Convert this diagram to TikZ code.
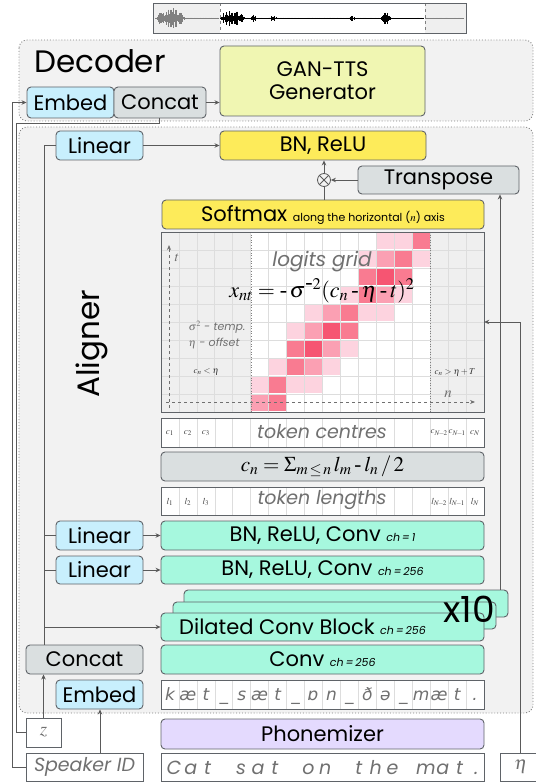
\documentclass[tikz,border=0pt]{standalone}
\usepackage{mathptmx}
\usepackage[no-math]{fontspec}
\setmainfont{Poppins}
\newfontfamily\ipaf{DejaVu Sans}
\newfontfamily\tms{Liberation Serif}
\usetikzlibrary{arrows.meta}
\definecolor{bordc}{HTML}{5F6368}
\definecolor{linec}{HTML}{5A5A5A}
\definecolor{lblue}{HTML}{C8EFFD}
\definecolor{cgray}{HTML}{DADFE0}
\definecolor{yel}{HTML}{FDEB5A}
\definecolor{lime}{HTML}{F0F6B2}
\definecolor{teal}{HTML}{A6F8DE}
\definecolor{lav}{HTML}{E4DAFE}
\definecolor{panel}{HTML}{F2F2F2}
\definecolor{txtg}{HTML}{707070}
\definecolor{gridg}{HTML}{EFEFEF}
\definecolor{gridl}{HTML}{DDDDDD}
\definecolor{pk1}{HTML}{FDD3DF}
\definecolor{pk2}{HTML}{FBA0B3}
\definecolor{pk3}{HTML}{F97B91}
\definecolor{pk4}{HTML}{F65572}
\newcommand{\myfs}[1]{\fontsize{#1}{#1}\selectfont}
\newcommand{\hy}{\mathbin{\mbox{\tms -}}}
\newcommand{\bx}[7]{%
  \pgfmathsetmacro{\cxx}{(#3+#5)/2}\pgfmathsetmacro{\cyy}{(#4+#6)/2}%
  \pgfmathsetmacro{\ww}{#5-#3}\pgfmathsetmacro{\hh}{#6-#4}%
  \node[#2, minimum width=\ww pt, minimum height=\hh pt] (#1) at (\cxx,\cyy) {#7};}
\begin{document}
\begin{tikzpicture}[x=1pt,y=-1pt,
  ln/.style={draw=linec, line width=0.8pt},
  arr/.style={ln, -{Stealth[length=5pt,width=4.5pt]}},
  bb/.style={draw=bordc, line width=0.9pt, rounded corners=4pt, inner sep=0pt, text=black, font=\myfs{21}},
  bluebox/.style={bb, fill=lblue},
  graybox/.style={bb, fill=cgray},
  yelbox/.style={bb, fill=yel},
  tealbox/.style={bb, fill=teal},
  lavbox/.style={bb, fill=lav},
  whitebox/.style={bb, fill=white, rounded corners=0pt, text=txtg, font=\myfs{19}\itshape},
  panelbox/.style={draw=gray, dotted, line width=0.9pt, fill=panel, rounded corners=8pt}
]
\useasboundingbox (0,0) rectangle (535,783);

% ---------- waveform ----------
\fill[gridg] (153,3.5) rectangle (466,33);
\fill[white] (220,3.5) rectangle (425,33);
\draw[gray, dashed, line width=0.5pt] (220,3.5) -- (220,33) (425,3.5) -- (425,33);
\pgfmathsetseed{7}
\foreach \xx in {155,155.6,...,219} {
  \pgfmathsetmacro\am{0.6+10*max(0,1-((\xx-170)/15)^2)}
  \pgfmathsetmacro\rr{\am*(0.2+0.8*rnd)}
  \draw[gray, line width=0.45pt] (\xx,18.4-\rr) -- (\xx,18.4+\rr);
}
\foreach \xx in {220,220.6,...,424} {
  \pgfmathsetmacro\am{0.5+8*max(0,1-((\xx-232)/13)^2)+4*max(0,1-((\xx-253)/3)^2)+2.5*max(0,1-((\xx-273)/4)^2)+2.5*max(0,1-((\xx-352)/3)^2)+6*max(0,1-((\xx-386)/5)^2)}
  \pgfmathsetmacro\rr{\am*(0.2+0.8*rnd)}
  \draw[black, line width=0.45pt] (\xx,18.4-\rr) -- (\xx,18.4+\rr);
}
\foreach \xx in {425,425.6,...,464} {
  \pgfmathsetmacro\rr{0.5*(0.2+0.8*rnd)}
  \draw[gray, line width=0.45pt] (\xx,18.4-\rr) -- (\xx,18.4+\rr);
}
\draw[bordc, line width=0.9pt] (153,3.5) rectangle (466,33);

% ---------- panels ----------
\draw[panelbox] (19,40) rectangle (533,121);
\draw[panelbox] (19,127) rectangle (533,713);

% ---------- decoder ----------
\node[font=\myfs{31}, anchor=center] (dec) at (100,61) {Decoder};
\bx{gan}{bb, fill=lime, align=center, font=\myfs{21}}{220}{46}{425}{116}{GAN-TTS\\[2pt]Generator}
\bx{emb1}{bluebox}{27}{87}{114}{118}{Embed}
\bx{cat1}{graybox}{114}{87}{206}{118}{Concat}
\draw[arr] (cat1.east) -- (gan.west |- cat1.east);

% ---------- aligner ----------
\node[rotate=90, font=\myfs{31}] (al) at (92,344) {Aligner};
\bx{lin1}{bluebox}{56}{131}{143}{160}{Linear}
\bx{bnr}{yelbox}{220}{131}{426}{160}{BN, ReLU}
\bx{tr}{graybox}{358}{166}{519}{194}{Transpose}
\node[circle, draw=linec, line width=0.8pt, minimum size=13pt, inner sep=0pt] (ot) at (324,180) {};
\draw[linec, line width=0.8pt] (ot.north west) -- (ot.south east) (ot.north east) -- (ot.south west);
\bx{soft}{yelbox}{162}{200}{484}{229}{Softmax \myfs{11}along the horizontal ($n$) axis}

% logits grid
\bx{grid}{draw=none, inner sep=0pt}{161}{232}{484}{412}{}
\fill[gridg] (161,232) rectangle (251,412);
\fill[white] (251,232) rectangle (430,412);
\fill[gridg] (430,232) rectangle (484,412);
\foreach \i in {1,...,17} \draw[gridl, line width=0.7pt] ({161+\i*17.944},232) -- ++(0,180);
\foreach \j in {1,...,9} \draw[gridl, line width=0.7pt] (161,{232+\j*18}) -- ++(323,0);
\foreach \r/\c/\k in {0/12/1,0/13/1,0/14/3, 1/11/1,1/12/2,1/13/3,1/14/1, 2/11/3,2/12/4,2/13/3, 3/10/1,3/11/3,3/12/2,3/13/1, 4/8/1,4/9/2,4/10/3,4/11/1,4/12/1, 5/7/1,5/8/2,5/9/4,5/10/3, 6/7/3,6/8/4,6/9/2,6/10/1, 7/6/1,7/7/3,7/8/2,7/9/1, 8/5/1,8/6/3,8/7/1,8/8/1, 9/5/2,9/6/3}
  \fill[pk\k] ({161+\c*17.944+0.6},{232+\r*18+0.6}) rectangle ++(16.7,16.8);
\draw[gray, dotted, line width=0.6pt] (251,232) -- (251,412) (430,232) -- (430,412);
\draw[dashed, draw=txtg, line width=0.9pt, -{Stealth[length=5pt,width=4pt]}] (169,408) -- (169,245);
\draw[dashed, draw=txtg, line width=0.9pt, -{Stealth[length=5pt,width=4pt]}] (166,402) -- (475,402);
\node[text=txtg, font=\myfs{14}] (tl) at (177,258) {$t$};
\node[text=txtg, font=\myfs{15}] (nl) at (448,394) {$n$};
\node[text=txtg, font=\myfs{20}\itshape] (lg) at (322,262) {logits grid};
\node[font=\myfs{22}] (fx) at (322,291) {$x_{nt} = \hy\,\sigma^{\hy 2}(c_n \hy \eta \hy t)^2$};
\node[text=txtg, font=\myfs{11}\itshape, anchor=west] (st) at (185,327) {$\sigma^2$ - temp.};
\node[text=txtg, font=\myfs{11}\itshape, anchor=west] (et) at (185,343) {$\eta$ - offset};
\node[text=black!80, font=\myfs{9}, anchor=west] (cl) at (190,372) {$c_n < \eta$};
\node[text=black!80, font=\myfs{9}, anchor=west] (cr) at (431,372) {$c_n > \eta + T$};
\draw[bordc, line width=0.9pt] (161,232) rectangle (484,412);

% token centres
\bx{tc}{whitebox}{161}{418}{484}{447}{}
\foreach \i in {1,...,17} \draw[gridl, line width=0.6pt] ({161+\i*17.944},418) -- ++(0,29);
\draw[bordc, line width=0.9pt] (161,418) rectangle (484,447);
\node[text=txtg, font=\myfs{19}\itshape] (tct) at (322,432) {token centres};
\foreach \i/\t in {0/{c_1},1/{c_2},2/{c_3},15/{c_{N\!-\!2}},16/{c_{N\!-\!1}},17/{c_N}}
  \node[text=black!75, font=\myfs{9}] at ({161+(\i+0.5)*17.944},433) {$\t$};
\bx{cform}{graybox, font=\myfs{21}}{161}{452}{484}{481}{$c_n = \Sigma_{m\,\leq\, n}\, l_m \hy l_n \,/\, 2$}
% token lengths
\bx{tlen}{whitebox}{161}{487}{484}{515}{}
\foreach \i in {1,...,17} \draw[gridl, line width=0.6pt] ({161+\i*17.944},487) -- ++(0,28);
\draw[bordc, line width=0.9pt] (161,487) rectangle (484,515);
\node[text=txtg, font=\myfs{19}\itshape] (tlt) at (322,500) {token lengths};
\foreach \i/\t in {0/{l_1},1/{l_2},2/{l_3},15/{l_{N\!-\!2}},16/{l_{N\!-\!1}},17/{l_N}}
  \node[text=black!75, font=\myfs{9}] at ({161+(\i+0.5)*17.944},502) {$\t$};

\bx{lin2}{bluebox}{56}{521}{143}{550}{Linear}
\bx{bc1}{tealbox}{161}{521}{484}{550}{BN, ReLU, Conv \myfs{11}\itshape ch\,=\,1}
\bx{lin3}{bluebox}{56}{556}{143}{584}{Linear}
\bx{bc2}{tealbox}{161}{556}{484}{584}{BN, ReLU, Conv \myfs{11}\itshape ch\,=\,256}
\bx{dil3}{tealbox}{184}{590}{508}{617}{}
\bx{dil2}{tealbox}{173}{602}{496}{629}{}
\bx{dil}{tealbox}{161}{613}{484}{641}{Dilated Conv Block \myfs{11}\itshape ch\,=\,256\hspace*{40pt}}
\node[font=\myfs{36}] (x10) at (469,609) {x10};
\bx{cat2}{graybox}{26}{645}{143}{674}{Concat}
\bx{conv}{tealbox}{161}{645}{484}{674}{Conv \myfs{11}\itshape ch\,=\,256}
\bx{emb2}{bluebox}{56}{680}{143}{709}{Embed}
\bx{ph}{whitebox}{161}{680}{484}{709}{}
\foreach \i in {1,...,17} \draw[gridl, line width=0.6pt] ({161+\i*17.944},680) -- ++(0,29);
\draw[bordc, line width=0.9pt] (161,680) rectangle (484,709);
\foreach \ch [count=\i from 0] in {k,æ,t,\_,s,æ,t,\_,ɒ,n,\_,ð,ə,\_,m,æ,t,.}
  \node[text=txtg, font=\ipaf\myfs{17}\itshape, anchor=base] at ({161+(\i+0.5)*17.944},700.5) {\ch};

% ---------- inputs ----------
\bx{z}{whitebox}{26}{718}{61}{747}{$z$}
\bx{phz}{lavbox}{161}{719}{484}{749}{Phonemizer}
\bx{spk}{whitebox}{26}{753}{143}{781}{Speaker ID}
\bx{cat}{whitebox}{161}{753}{484}{781}{}
\foreach \ch [count=\i from 0] in {C,a,t,{},s,a,t,{},o,n,{},t,h,e,{},m,a,t,.}
  \node[text=txtg, font=\myfs{19}\itshape, anchor=base] at ({174+\i*16.8},774) {\ch};
\bx{eta}{whitebox}{500}{753}{542}{781}{$\eta$}

% ---------- connectors ----------
\coordinate (vl) at (44,0);
\coordinate (ve) at (100,0);
\coordinate (xa) at (500,0);
\coordinate (xb) at (520,0);
\coordinate (lo) at (12,0);
\coordinate (li) at (16,0);
\coordinate (cz) at (159,123);
\draw[arr] (spk.west) -| (lo |- emb1.west) -- (emb1.west);
\draw[ln] (z.west) -| (li |- cz) -- (cz) -- (cz |- cat1.south);
\draw[arr] (z.north) -- (z.north |- cat2.south);
\draw[arr] (spk.north -| ve) -- (emb2.south -| ve);
\draw[ln] (cat2.north -| vl) |- (lin1.west);
\draw[ln] (vl |- lin2.west) -- (lin2.west);
\draw[ln] (vl |- lin3.west) -- (lin3.west);
\draw[arr] (vl |- dil.west) -- (dil.west);
\draw[arr] (lin1.east) -- (bnr.west);
\draw[arr] (lin2.east) -- (bc1.west);
\draw[arr] (lin3.east) -- (bc2.west);
\draw[arr] (ot.north) -- (ot.north |- bnr.south);
\draw[ln] (ot.south |- soft.north) -- (ot.south);
\draw[arr] (tr.west) -- (ot.east);
\draw[arr] (dil3.north -| xa) -- (tr.south -| xa);
\draw[arr] (eta.north -| xb) |- (grid.east);
\end{tikzpicture}
\end{document}
